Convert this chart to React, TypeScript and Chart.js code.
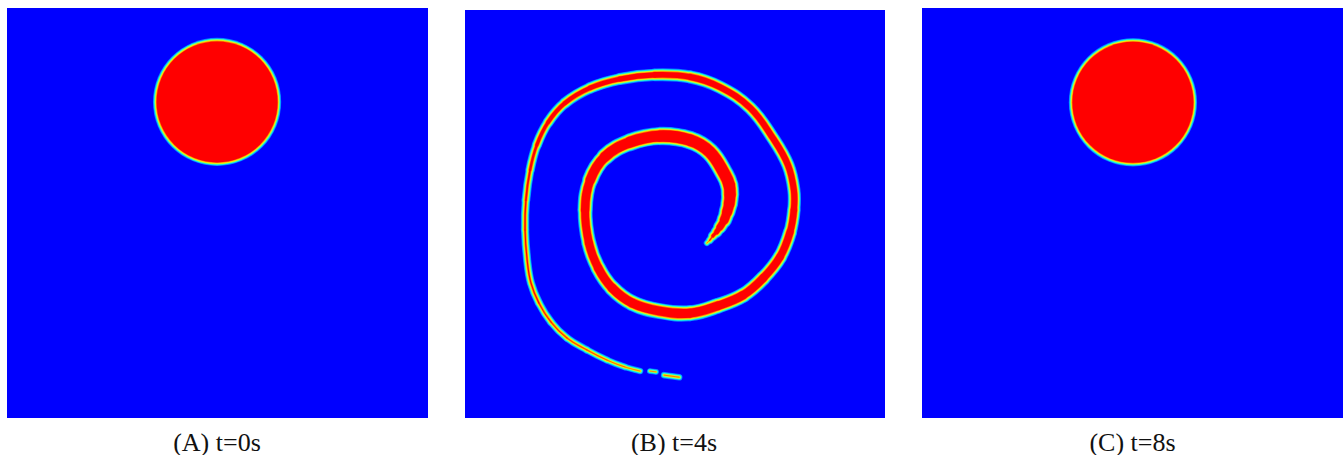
import React, { useEffect, useRef } from 'react';
import { Chart, registerables } from 'chart.js';

Chart.register(...registerables);

// Panel captions
const panelLabels = ['(A) t=0s', '(B) t=4s', '(C) t=8s'];

// Drop at t=0 and t=8 (domain units, origin bottom-left)
const dropCenterX = [0.499, 0.501];
const dropCenterY = [0.771, 0.77];
const dropRadius = [0.148, 0.148];

// Stretched filament at t=4: centreline from the inner tip outwards, null = break
const spiralX = [
  0.576, 0.583, 0.59, 0.599, 0.607, 0.617, 0.624, 0.629, 0.631, 0.629,
  0.619, 0.583, 0.536, 0.464, 0.393, 0.333, 0.298, 0.286, 0.295, 0.317,
  0.35, 0.398, 0.464, 0.536, 0.602, 0.662, 0.71, 0.75, 0.774, 0.783,
  0.783, 0.769, 0.733, 0.679, 0.607, 0.536, 0.452, 0.369, 0.298, 0.238,
  0.198, 0.171, 0.155, 0.145, 0.143, 0.148, 0.157, 0.176, 0.205, 0.243,
  0.29, 0.338, 0.381, 0.417, null, 0.44, 0.455, null, 0.474, 0.51,
];
const spiralY = [
  0.429, 0.436, 0.446, 0.456, 0.468, 0.485, 0.505, 0.525, 0.547, 0.571,
  0.596, 0.652, 0.681, 0.691, 0.676, 0.64, 0.583, 0.51, 0.429, 0.368,
  0.319, 0.282, 0.262, 0.257, 0.275, 0.301, 0.343, 0.395, 0.456, 0.51,
  0.559, 0.62, 0.686, 0.76, 0.811, 0.836, 0.841, 0.831, 0.809, 0.772,
  0.725, 0.669, 0.608, 0.534, 0.461, 0.387, 0.331, 0.282, 0.235, 0.196,
  0.167, 0.142, 0.125, 0.115, null, 0.115, 0.113, null, 0.105, 0.1,
];
// Filament thickness at the interface (domain units)
const spiralThickness = [
  0.005, 0.008, 0.013, 0.018, 0.022, 0.027, 0.031, 0.033, 0.035, 0.036,
  0.036, 0.036, 0.036, 0.035, 0.034, 0.032, 0.029, 0.027, 0.027, 0.028,
  0.029, 0.03, 0.03, 0.03, 0.029, 0.028, 0.027, 0.026, 0.025, 0.023,
  0.023, 0.023, 0.023, 0.023, 0.023, 0.023, 0.021, 0.02, 0.019, 0.018,
  0.017, 0.015, 0.013, 0.012, 0.011, 0.011, 0.011, 0.011, 0.01, 0.01,
  0.009, 0.008, 0.007, 0.006, null, 0.005, 0.005, null, 0.007, 0.007,
];

// Colour bands across the interface (jet colormap), full-width offset in px from the interface
const rimBands = [
  { off: 3.6, color: '#0a78ff' },
  { off: 2.4, color: '#00c8ff' },
  { off: 1.2, color: '#30ffc8' },
  { off: 0.0, color: '#b4ff3c' },
  { off: -1.2, color: '#ffe000' },
  { off: -2.4, color: '#ff7800' },
  { off: -3.6, color: '#ff0000' },
];

const panels = [
  { left: 7, top: 8, width: 421, height: 410, kind: 'drop', drop: 0, labelCenter: 217 },
  { left: 465, top: 10, width: 420, height: 408, kind: 'spiral', drop: -1, labelCenter: 674 },
  { left: 922, top: 8, width: 421, height: 410, kind: 'drop', drop: 1, labelCenter: 1132.5 },
];

function unitPx(chart: any, v: number): number {
  const s = chart.scales && chart.scales.x;
  if (!s) return 0;
  const p = s.getPixelForValue(v) - s.getPixelForValue(0);
  return Number.isFinite(p) ? p : 0;
}

const fieldBackground = {
  id: 'fieldBackground',
  beforeDraw(chart: any) {
    const { ctx, chartArea } = chart;
    if (!chartArea) return;
    ctx.save();
    ctx.fillStyle = '#0000ff';
    ctx.fillRect(chartArea.left, chartArea.top, chartArea.right - chartArea.left, chartArea.bottom - chartArea.top);
    ctx.restore();
  },
};

function buildDatasets(kind: string, drop: number): any[] {
  const bandsTopFirst = [...rimBands].reverse();
  if (kind === 'drop') {
    const cx = dropCenterX[drop];
    const cy = dropCenterY[drop];
    const r = dropRadius[drop];
    return bandsTopFirst.map((b) => ({
      data: [{ x: cx, y: cy }],
      pointRadius: (c: any) => Math.max(0, unitPx(c.chart, r) + b.off / 2),
      pointHoverRadius: (c: any) => Math.max(0, unitPx(c.chart, r) + b.off / 2),
      pointBackgroundColor: b.color,
      pointBorderColor: b.color,
      pointBorderWidth: 0,
      showLine: false,
    }));
  }
  const points = spiralX.map((x, i) => ({ x: x ?? null, y: spiralY[i] ?? null }));
  return bandsTopFirst.map((b) => ({
    data: points,
    showLine: true,
    spanGaps: false,
    pointRadius: 0,
    pointHoverRadius: 0,
    borderColor: b.color,
    borderWidth: 1,
    borderCapStyle: 'round',
    borderJoinStyle: 'round',
    tension: 0.4,
    fill: false,
    segment: {
      borderWidth: (c: any) => {
        const a = spiralThickness[c.p0DataIndex] ?? 0;
        const d = spiralThickness[c.p1DataIndex] ?? 0;
        return Math.max(0.3, unitPx(c.chart, (a + d) / 2) + b.off);
      },
    },
  }));
}

function FieldPanel({ p }: { p: (typeof panels)[number] }) {
  const ref = useRef<HTMLCanvasElement | null>(null);
  useEffect(() => {
    if (!ref.current) return;
    const chart = new Chart(ref.current, {
      type: 'scatter',
      data: { datasets: buildDatasets(p.kind, p.drop) as any },
      options: {
        animation: false,
        responsive: false,
        maintainAspectRatio: false,
        devicePixelRatio: 1,
        events: [],
        layout: { padding: 0, autoPadding: false },
        plugins: {
          legend: { display: false },
          tooltip: { enabled: false },
          title: { display: false },
        },
        scales: {
          x: { type: 'linear', min: 0, max: 1, display: false },
          y: { type: 'linear', min: 0, max: 1, display: false },
        },
      } as any,
      plugins: [fieldBackground],
    });
    return () => chart.destroy();
  }, [p]);
  return (
    <canvas
      ref={ref}
      width={p.width}
      height={p.height}
      style={{ position: 'absolute', left: p.left, top: p.top, width: p.width, height: p.height }}
    />
  );
}

export default function App() {
  return (
    <div style={{ position: 'absolute', left: 0, top: 0, width: 1344, height: 455, overflow: 'hidden', background: '#fff' }}>
      {panels.map((p, i) => (
        <React.Fragment key={i}>
          <FieldPanel p={p} />
          <div
            style={{
              position: 'absolute',
              left: p.labelCenter - 120,
              top: 428,
              width: 240,
              textAlign: 'center',
              fontFamily: '"Liberation Serif", "Times New Roman", serif',
              fontSize: 26,
              lineHeight: '30px',
              color: '#111',
              whiteSpace: 'nowrap',
            }}
          >
            {panelLabels[i]}
          </div>
        </React.Fragment>
      ))}
    </div>
  );
}
